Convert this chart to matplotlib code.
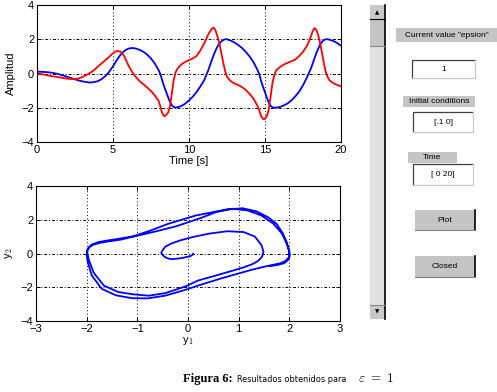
import matplotlib
matplotlib.use("Agg")
import matplotlib.pyplot as plt
from matplotlib.patches import Rectangle

# ---- data ----
t = [0, 0.25, 0.5, 0.75, 1.0, 1.25, 1.5, 1.75, 2.0, 2.25, 2.5, 2.75, 3.0, 3.25, 3.5,
     3.75, 4.0, 4.25, 4.5, 4.75, 5.0, 5.25, 5.5, 5.75, 6.0, 6.25, 6.5, 6.75, 7.0,
     7.25, 7.5, 7.75, 8.0, 8.125, 8.25, 8.375, 8.5, 8.625, 8.75, 8.875, 9.0, 9.125,
     9.25, 9.5, 9.75, 10.0, 10.25, 10.5, 10.75, 11.0, 11.25, 11.5, 11.625, 11.75,
     11.875, 12.0, 12.125, 12.25, 12.375, 12.5, 12.75, 13.0, 13.25, 13.5, 13.75,
     14.0, 14.25, 14.5, 14.625, 14.75, 14.875, 15.0, 15.125, 15.25, 15.375, 15.5,
     15.625, 15.75, 16.0, 16.25, 16.5, 16.75, 17.0, 17.25, 17.5, 17.75, 18.0,
     18.125, 18.25, 18.375, 18.5, 18.625, 18.75, 18.875, 19.0, 19.125, 19.25, 19.5,
     19.75, 20.0]

y1 = [0.10, 0.10, 0.09, 0.07, 0.04, 0.00, -0.06, -0.12, -0.20, -0.27, -0.34, -0.41,
      -0.46, -0.50, -0.53, -0.50, -0.45, -0.33, -0.15, 0.10, 0.42, 0.78, 1.10, 1.32,
      1.45, 1.49, 1.46, 1.38, 1.27, 1.10, 0.88, 0.58, 0.20, -0.05, -0.45, -0.78,
      -1.08, -1.38, -1.66, -1.86, -1.96, -1.99, -1.97, -1.90, -1.76, -1.57, -1.35,
      -1.08, -0.75, -0.39, 0.15, 0.78, 1.08, 1.35, 1.58, 1.75, 1.87, 1.95, 2.00,
      2.00, 1.92, 1.81, 1.66, 1.48, 1.25, 0.98, 0.65, 0.22, -0.05, -0.45, -0.80,
      -1.10, -1.42, -1.70, -1.90, -1.98, -2.00, -1.99, -1.95, -1.86, -1.74, -1.56,
      -1.33, -1.05, -0.69, -0.25, 0.25, 0.55, 0.88, 1.18, 1.45, 1.68, 1.85, 1.95,
      2.00, 2.00, 1.97, 1.90, 1.78, 1.62]

y2 = [0.00, -0.03, -0.07, -0.12, -0.16, -0.19, -0.23, -0.27, -0.30, -0.32, -0.33,
      -0.28, -0.20, -0.09, 0.04, 0.20, 0.40, 0.59, 0.78, 0.98, 1.18, 1.32, 1.27,
      1.00, 0.50, 0.10, -0.20, -0.45, -0.63, -0.82, -1.02, -1.28, -1.60, -1.95,
      -2.35, -2.50, -2.42, -2.28, -1.90, -1.15, -0.35, 0.08, 0.29, 0.53, 0.68, 0.78,
      0.88, 1.02, 1.35, 1.76, 2.25, 2.62, 2.68, 2.50, 2.15, 1.75, 1.20, 0.65, 0.15,
      -0.20, -0.45, -0.59, -0.68, -0.80, -0.97, -1.20, -1.48, -1.88, -2.15, -2.50,
      -2.66, -2.65, -2.48, -2.10, -1.30, -0.50, -0.05, 0.20, 0.39, 0.53, 0.63, 0.72,
      0.82, 1.02, 1.27, 1.60, 2.10, 2.45, 2.65, 2.55, 2.25, 1.78, 1.20, 0.58, 0.08,
      -0.22, -0.40, -0.57, -0.67, -0.75]

top_xticks = [0, 5, 10, 15, 20]
top_yticks = [-4, -2, 0, 2, 4]
bot_xticks = [-3, -2, -1, 0, 1, 2, 3]
bot_yticks = [-4, -2, 0, 2, 4]

W, H = 497, 392
plt.rcParams['font.family'] = ['Liberation Sans', 'DejaVu Sans']
plt.rcParams['mathtext.fontset'] = 'cm'
fig = plt.figure(figsize=(W / 100, H / 100), dpi=100)
fig.patch.set_facecolor('white')


def px_axes(l, t_, r, b):
    return fig.add_axes([l / W, 1 - b / H, (r - l) / W, (b - t_) / H])


def style(ax, xt, yt):
    ax.set_xticks(xt)
    ax.set_yticks(yt)
    ax.set_xticklabels([str(v).replace('-', '\u2212') for v in xt])
    ax.set_yticklabels([str(v).replace('-', '\u2212') for v in yt])
    ax.tick_params(direction='in', length=3, width=0.7, labelsize=8,
                   top=True, right=True, pad=2)
    for s in ax.spines.values():
        s.set_linewidth(0.8)
    ax.grid(False)
    for v in xt[1:-1]:
        ax.axvline(v, color='k', lw=0.7, ls=(0, (1, 2.5)), zorder=0)
    for v in yt[1:-1]:
        ax.axhline(v, color='k', lw=0.7, ls=(0, (3, 2, 1, 2)), zorder=0)


line_kw = dict(lw=1.3, solid_joinstyle='round', solid_capstyle='round')

ax1 = px_axes(37, 5, 341, 142)
ax1.plot(t, y1, color='#0000ff', **line_kw)
ax1.plot(t, y2, color='#ff0000', **line_kw)
ax1.set_xlim(0, 20)
ax1.set_ylim(-4, 4)
style(ax1, top_xticks, top_yticks)
ax1.set_xlabel('Time [s]', fontsize=8, labelpad=1)
ax1.set_ylabel('Amplitud', fontsize=8, labelpad=4)

ax2 = px_axes(36, 186, 340, 321)
ax2.plot(y1, y2, color='#0000ff', **line_kw)
ax2.set_xlim(-3, 3)
ax2.set_ylim(-4, 4)
style(ax2, bot_xticks, bot_yticks)
ax2.set_xlabel('y$_1$', fontsize=8, labelpad=1)
ax2.set_ylabel('y$_2$', fontsize=8, labelpad=4)

# ---- GUI panel overlay (pixel coordinates) ----
ov = fig.add_axes([0, 0, 1, 1], zorder=5)
ov.set_xlim(0, W)
ov.set_ylim(H, 0)
ov.axis('off')
ov.patch.set_alpha(0)

# slider
ov.add_patch(Rectangle((370, 5), 15, 314, facecolor='#e0e0e0', edgecolor='none'))
ov.plot([385, 385], [5, 319], color='k', lw=1.2)
ov.add_patch(Rectangle((370, 5), 15, 14, facecolor='#c8c8c8', edgecolor='none'))
ov.plot([370, 385], [19, 19], color='k', lw=0.8)
ov.text(377.5, 12.5, '\u25b2', fontsize=4, ha='center', va='center', family='DejaVu Sans')
ov.add_patch(Rectangle((370, 19), 15, 27, facecolor='#c4c4c4', edgecolor='none'))
ov.plot([370, 385], [46, 46], color='#888888', lw=0.8)
ov.add_patch(Rectangle((370, 305), 15, 14, facecolor='#c8c8c8', edgecolor='none'))
ov.plot([370, 385], [305, 305], color='#888888', lw=0.8)
ov.text(377.5, 312, '\u25bc', fontsize=4, ha='center', va='center', family='DejaVu Sans')


def label(x0, y0, x1, y1_, s):
    ov.add_patch(Rectangle((x0, y0), x1 - x0, y1_ - y0, facecolor='#c4c4c4', edgecolor='none'))
    ov.text((x0 + x1) / 2, (y0 + y1_) / 2, s, fontsize=6, ha='center', va='center')


def edit(x0, y0, x1, y1_, s):
    ov.add_patch(Rectangle((x0, y0), x1 - x0, y1_ - y0, facecolor='white', edgecolor='none'))
    ov.plot([x0, x0, x1], [y1_, y0, y0], color='#404040', lw=0.9)
    ov.plot([x0, x1, x1], [y1_, y1_, y0], color='#c8c8c8', lw=0.9)
    ov.text((x0 + x1) / 2, (y0 + y1_) / 2, s, fontsize=6, ha='center', va='center')


def button(x0, y0, x1, y1_, s):
    ov.add_patch(Rectangle((x0, y0), x1 - x0, y1_ - y0, facecolor='#c4c4c4', edgecolor='none'))
    ov.plot([x1, x1], [y0, y1_], color='k', lw=1.2)
    ov.plot([x0, x1], [y1_, y1_], color='#808080', lw=0.8)
    ov.text((x0 + x1) / 2, (y0 + y1_) / 2, s, fontsize=6, ha='center', va='center')


label(396, 28, 497, 42, 'Current value "epsion"')
edit(412, 60, 475, 78, '1')
label(403, 96, 475, 107, 'Initial conditions')
edit(413, 112, 473, 132, '[.1 0]')
label(408, 152, 457, 163, 'Time')
edit(413, 164, 473, 185, '[ 0 20]')
button(415, 210, 475, 230, 'Plot')
button(415, 256, 475, 277, 'Closed')

# caption
ov.text(233, 379, 'Figura 6:', fontsize=9, family='Liberation Serif', fontweight='bold',
        ha='right', va='center')
ov.text(237, 379.5, 'Resultados obtenidos para', fontsize=5.9, family='DejaVu Sans',
        ha='left', va='center')
ov.text(358, 379, r'$\varepsilon\ =\ 1$', fontsize=9.5, ha='left', va='center')

fig.savefig('out.png', dpi=100, facecolor='white')
